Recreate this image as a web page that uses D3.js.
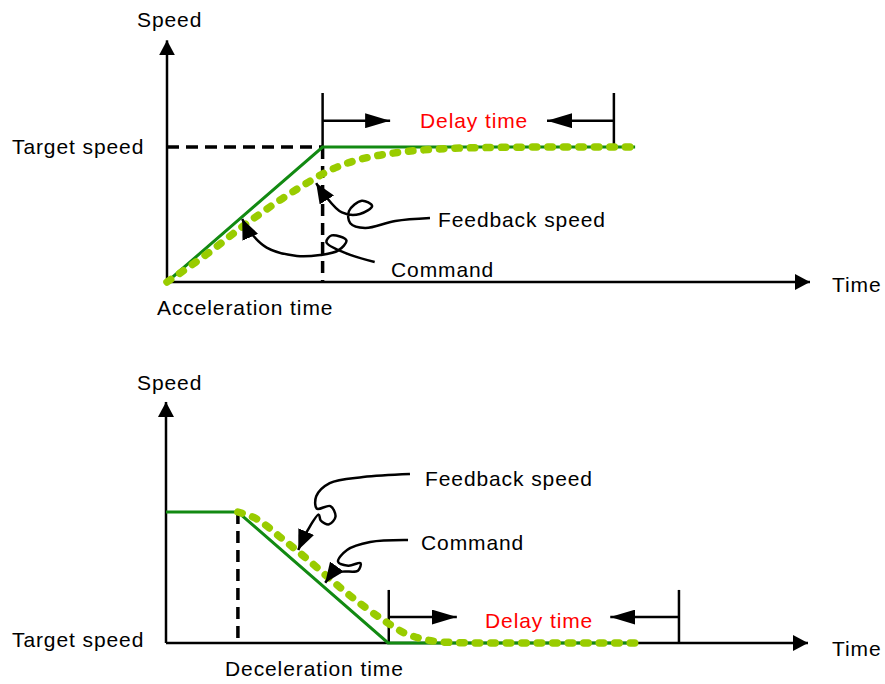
<!DOCTYPE html>
<html>
<head>
<meta charset="utf-8">
<script src="https://cdn.jsdelivr.net/npm/d3@7"></script>
<style>
  body { margin: 0; background: #fff; }
  text { font-family: Arial, "Liberation Sans", sans-serif; font-size: 21px; letter-spacing: 0.9px; fill: #000; }
  .red { fill: #ff0000; }
</style>
</head>
<body>
<div id="chart"></div>
<script>
// --- data (time 0..100, speed 0..100 = target speed) ---
var topCmdT = [0, 24.2, 72.8];
var topCmdV = [0, 100, 100];
var topFbT = [0, 6, 12, 18, 22, 25, 28, 32, 36, 42, 50, 60, 72.8];
var topFbV = [0, 20, 42, 62, 74, 82, 88, 93, 96, 98.5, 99.6, 100, 100];
var topDelay = { start: 24.2, end: 69.5, top: 140, arrow: 119.5, tipR: 34.7, tipL: 59.1 };

var botCmdT = [0, 11.2, 34.6, 73];
var botCmdV = [100, 100, 0, 0];
var botFbT = [11.2, 14, 18, 22, 26, 30, 34, 37, 40, 44, 50, 73];
var botFbV = [100, 95, 80, 64, 47, 31, 17, 8, 3, 0.5, 0, 0];
var botDelay = { start: 34.7, end: 79.9, top: 40.5, arrow: 19.8, tipR: 45.3, tipL: 69.2 };

// callout leader lines [t, v]
var topFbCallout = [[40.9, 47.4], [35.5, 45.2], [30.8, 40], [28.5, 43.5], [28.3, 52.5], [30.3, 60.2],
  [31.9, 56.3], [30, 50.4], [27.2, 51.5], [24.5, 64.5], [23.2, 73.3]];
var topCmdCallout = [[32.3, 14.8], [27.7, 21.5], [24.8, 29.5], [25.6, 34.5], [27.9, 30.8], [26.6, 23.2],
  [23.8, 20], [20.2, 19.3], [15.5, 25.5], [12.6, 39], [11.7, 46.7]];
var botFbCallout = [[38.0, 129], [30.7, 126.7], [25.5, 122.1], [23.4, 112], [23.5, 102.5], [25.6, 104.5],
  [26.4, 96.5], [25.4, 90.6], [24.1, 93.5], [23.8, 98], [22.1, 86.3], [20.6, 71]];
var botCmdCallout = [[37.7, 78.6], [31.8, 77.1], [28.2, 71], [26.8, 62], [28.4, 59], [30.3, 61],
  [29.9, 55.2], [27.4, 54.5], [25.9, 51.9], [24.8, 46]];

var width = 885, height = 684;
var svg = d3.select('#chart').append('svg').attr('width', width).attr('height', height);

var defs = svg.append('defs');
function marker(id, len, half) {
  defs.append('marker')
    .attr('id', id)
    .attr('markerUnits', 'userSpaceOnUse')
    .attr('viewBox', '0 ' + (-half) + ' ' + len + ' ' + (2 * half))
    .attr('refX', len).attr('refY', 0)
    .attr('markerWidth', len).attr('markerHeight', 2 * half)
    .attr('orient', 'auto')
    .append('path')
    .attr('d', 'M0,' + (-half) + 'L' + len + ',0L0,' + half + 'Z')
    .attr('fill', '#000');
}
marker('axisHead', 15, 8);
marker('delayHead', 25, 7.5);
marker('callHead', 20, 8.5);

function drawPanel(o) {
  var x = d3.scaleLinear().domain([0, 100]).range(o.xRange);
  var y = d3.scaleLinear().domain([0, 100]).range(o.yRange);
  var g = svg.append('g');
  var line = d3.line().x(function (d) { return x(d[0]); }).y(function (d) { return y(d[1]); });

  // axes
  g.append('line').attr('x1', x(0)).attr('y1', y(0)).attr('x2', x(0)).attr('y2', y(o.yMax))
    .attr('stroke', '#000').attr('stroke-width', 2.5).attr('marker-end', 'url(#axisHead)');
  g.append('line').attr('x1', x(0)).attr('y1', y(0)).attr('x2', x(100)).attr('y2', y(0))
    .attr('stroke', '#000').attr('stroke-width', 2.5).attr('marker-end', 'url(#axisHead)');

  // dashed guides
  o.guides.forEach(function (seg) {
    g.append('path').attr('d', line(seg)).attr('fill', 'none')
      .attr('stroke', '#000').attr('stroke-width', 3.5).attr('stroke-dasharray', '12,7');
  });

  // delay bracket
  var dl = o.delay;
  [dl.start, dl.end].forEach(function (t) {
    g.append('line').attr('x1', x(t)).attr('x2', x(t)).attr('y1', y(dl.top)).attr('y2', y(o.bracketBottom))
      .attr('stroke', '#000').attr('stroke-width', 2.5);
  });
  g.append('line').attr('x1', x(dl.start)).attr('x2', x(dl.tipR)).attr('y1', y(dl.arrow)).attr('y2', y(dl.arrow))
    .attr('stroke', '#000').attr('stroke-width', 2.5).attr('marker-end', 'url(#delayHead)');
  g.append('line').attr('x1', x(dl.end)).attr('x2', x(dl.tipL)).attr('y1', y(dl.arrow)).attr('y2', y(dl.arrow))
    .attr('stroke', '#000').attr('stroke-width', 2.5).attr('marker-end', 'url(#delayHead)');

  // command (solid green)
  g.append('path').attr('d', line(d3.zip(o.cmdT, o.cmdV))).attr('fill', 'none')
    .attr('stroke', '#128a12').attr('stroke-width', 3);

  // feedback (dashed light green)
  var fbLine = d3.line().curve(d3.curveMonotoneX)
    .x(function (d) { return x(d[0]); }).y(function (d) { return y(d[1]); });
  g.append('path').attr('d', fbLine(d3.zip(o.fbT, o.fbV))).attr('fill', 'none')
    .attr('stroke', '#99cc00').attr('stroke-width', 7.5)
    .attr('stroke-linecap', 'round').attr('stroke-dasharray', '4.5,11');

  // callouts
  var callLine = d3.line().curve(d3.curveCatmullRom.alpha(0.5))
    .x(function (d) { return x(d[0]); }).y(function (d) { return y(d[1]); });
  o.callouts.forEach(function (c) {
    g.append('path').attr('d', callLine(c)).attr('fill', 'none')
      .attr('stroke', '#000').attr('stroke-width', 2.5).attr('marker-end', 'url(#callHead)');
  });

  // labels
  o.labels.forEach(function (l) {
    g.append('text').attr('x', l[0]).attr('y', l[1]).attr('class', l[3] || null).text(l[2]);
  });
}

drawPanel({
  xRange: [167, 810], yRange: [282, 147], yMax: 179,
  cmdT: topCmdT, cmdV: topCmdV, fbT: topFbT, fbV: topFbV,
  delay: topDelay, bracketBottom: 100,
  guides: [[[0, 100], [topCmdT[1], 100]], [[topCmdT[1], 100], [topCmdT[1], 0]]],
  callouts: [topFbCallout, topCmdCallout],
  labels: [
    [137, 27, 'Speed'], [12, 154, 'Target speed'], [157, 315, 'Acceleration time'],
    [832, 292, 'Time'], [420, 128, 'Delay time', 'red'],
    [438, 227, 'Feedback speed'], [391, 277, 'Command']
  ]
});

drawPanel({
  xRange: [166, 808], yRange: [643, 512], yMax: 184,
  cmdT: botCmdT, cmdV: botCmdV, fbT: botFbT, fbV: botFbV,
  delay: botDelay, bracketBottom: 0,
  guides: [[[botCmdT[1], 100], [botCmdT[1], 0]]],
  callouts: [botFbCallout, botCmdCallout],
  labels: [
    [137, 390, 'Speed'], [12, 647, 'Target speed'], [225, 676, 'Deceleration time'],
    [832, 656, 'Time'], [485, 628, 'Delay time', 'red'],
    [425, 486, 'Feedback speed'], [421, 550, 'Command']
  ]
});
</script>
</body>
</html>
